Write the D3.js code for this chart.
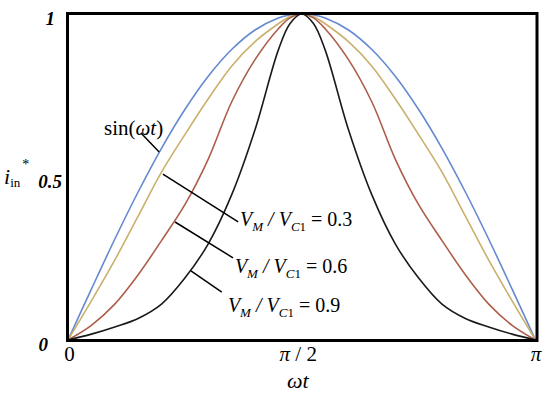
<!DOCTYPE html>
<html>
<head>
<meta charset="utf-8">
<script src="https://cdn.jsdelivr.net/npm/d3@7"></script>
<style>
  body { margin: 0; background: #fff; }
  svg text { font-family: "Liberation Serif", "Times New Roman", "DejaVu Serif", serif; fill: #000; }
</style>
</head>
<body>
<div id="viz"></div>
<script>
// omega*t as a fraction of pi
const phase = [0, .05, .1, .15, .2, .25, .3, .35, .4, .45, .475, .5, .525, .55, .6, .65, .7, .75, .8, .85, .9, .95, 1];

const sinWt = [0, .156, .309, .454, .588, .707, .809, .891, .951, .988, .997, 1, .997, .988, .951, .891, .809, .707, .588, .454, .309, .156, 0];
const ratio03 = [0, .12, .245, .38, .515, .63, .74, .84, .915, .97, .992, 1, .992, .97, .915, .84, .74, .63, .515, .38, .245, .12, 0];
const ratio06 = [0, .045, .11, .2, .305, .415, .555, .73, .86, .955, .988, 1, .988, .955, .86, .73, .555, .415, .305, .2, .11, .045, 0];
const ratio09 = [0, .018, .04, .066, .11, .19, .295, .445, .645, .89, .971, 1, .971, .89, .645, .445, .295, .19, .11, .066, .04, .018, 0];

const yTicks = [0, 0.5, 1];
const yTickLabels = ['0', '0.5', '1'];
const xTicks = [0, 0.5, 1];

(() => {
  let margin = { top: 14, right: 14.5, bottom: 57, left: 68 },
    width = 550 - margin.left - margin.right,
    height = 397 - margin.top - margin.bottom;

  let svg = d3.select('#viz')
    .append('svg')
    .attr('width', 550)
    .attr('height', 397)
    .append('g')
    .attr('transform', `translate(${margin.left}, ${margin.top})`);

  let x = d3.scaleLinear()
    .domain([0, 1])
    .range([0, width]);

  let y = d3.scaleLinear()
    .domain([0, 1])
    .range([height, 0]);

  let series = [
    { name: 'sin', values: sinWt, color: '#6589d0' },
    { name: '0.3', values: ratio03, color: '#c9b06c' },
    { name: '0.6', values: ratio06, color: '#ad5e4a' },
    { name: '0.9', values: ratio09, color: '#1a1a1a' }
  ];

  let line = d3.line()
    .x(d => x(d[0]))
    .y(d => y(d[1]))
    .curve(d3.curveCatmullRom.alpha(0.5));

  svg.selectAll('.curve')
    .data(series)
    .join('path')
    .attr('class', 'curve')
    .attr('d', s => line(phase.map((p, i) => [p, s.values[i]])))
    .attr('fill', 'none')
    .attr('stroke', s => s.color)
    .attr('stroke-width', 1.6);

  // frame
  svg.append('rect')
    .attr('x', -0.5)
    .attr('y', -0.5)
    .attr('width', width + 2)
    .attr('height', height + 1)
    .attr('fill', 'none')
    .attr('stroke', '#000')
    .attr('stroke-width', 3);

  // y axis labels
  let yAxis = svg.append('g')
    .call(d3.axisLeft(y)
      .tickValues(yTicks)
      .tickSize(0)
      .tickPadding(6)
      .tickFormat((d, i) => yTickLabels[i]));
  yAxis.select('.domain').remove();
  yAxis.attr('font-family', null);
  yAxis.selectAll('text')
    .style('font-size', '19px')
    .style('font-weight', 'bold')
    .style('font-style', 'italic')
    .attr('dy', '0.55em')
    .attr('dx', (d, i) => [-14, 0, -7][i]);

  // x axis labels
  let xAxis = svg.append('g')
    .attr('transform', `translate(0,${height})`)
    .call(d3.axisBottom(x)
      .tickValues(xTicks)
      .tickSize(0)
      .tickPadding(8)
      .tickFormat(d => d));
  xAxis.select('.domain').remove();
  xAxis.attr('font-family', null);
  xAxis.selectAll('text')
    .style('font-size', '21px')
    .attr('dy', '0.6em')
    .attr('dx', (d, i) => [1, -4, 0][i])
    .html(d => d === 0 ? '0' : d === 1 ? '<tspan font-style="italic">π</tspan>'
      : '<tspan font-style="italic">π</tspan> / 2');

  svg.append('text')
    .attr('x', x(0.5) - 4)
    .attr('y', height + 48)
    .attr('text-anchor', 'middle')
    .style('font-size', '22px')
    .style('font-style', 'italic')
    .text('ωt');

  // y title i_in*
  let yTitle = svg.append('text')
    .attr('x', -64)
    .attr('y', y(0.48))
    .style('font-size', '22px');
  yTitle.append('tspan').style('font-style', 'italic').text('i');
  yTitle.append('tspan').attr('dy', 3).style('font-size', '13px').text('in');
  yTitle.append('tspan').attr('dx', 2).attr('dy', -18).style('font-size', '14px').text('*');

  // annotations: leader from/to and label anchor in data units
  let notes = [
    { from: [0.156, 0.635], to: [0.195, 0.577], at: [0.077, 0.628], label: null },
    { from: [0.203, 0.509], to: [0.364, 0.362], at: [0.368, 0.350], label: '0.3' },
    { from: [0.229, 0.362], to: [0.353, 0.252], at: [0.357, 0.205], label: '0.6' },
    { from: [0.263, 0.212], to: [0.329, 0.147], at: [0.342, 0.086], label: '0.9' }
  ];

  svg.selectAll('.leader')
    .data(notes)
    .join('line')
    .attr('class', 'leader')
    .attr('x1', d => x(d.from[0]))
    .attr('y1', d => y(d.from[1]))
    .attr('x2', d => x(d.to[0]))
    .attr('y2', d => y(d.to[1]))
    .attr('stroke', '#000')
    .attr('stroke-width', 1.5);

  notes.forEach(n => {
    let t = svg.append('text')
      .attr('x', x(n.at[0]))
      .attr('y', y(n.at[1]))
      .style('font-size', n.label === null ? '21px' : '20px');
    if (n.label === null) {
      t.append('tspan').text('sin(');
      t.append('tspan').style('font-style', 'italic').text('ωt');
      t.append('tspan').text(')');
      return;
    }
    t.append('tspan').style('font-style', 'italic').text('V');
    t.append('tspan').attr('dy', 5).style('font-size', '13px').style('font-style', 'italic').text('M');
    t.append('tspan').attr('dy', -5).style('font-style', 'italic').text(' / V');
    t.append('tspan').attr('dy', 5).style('font-size', '13px').style('font-style', 'italic').text('C');
    t.append('tspan').style('font-size', '13px').text('1');
    t.append('tspan').attr('dy', -5).text(' = ' + n.label);
  });
})();
</script>
</body>
</html>
